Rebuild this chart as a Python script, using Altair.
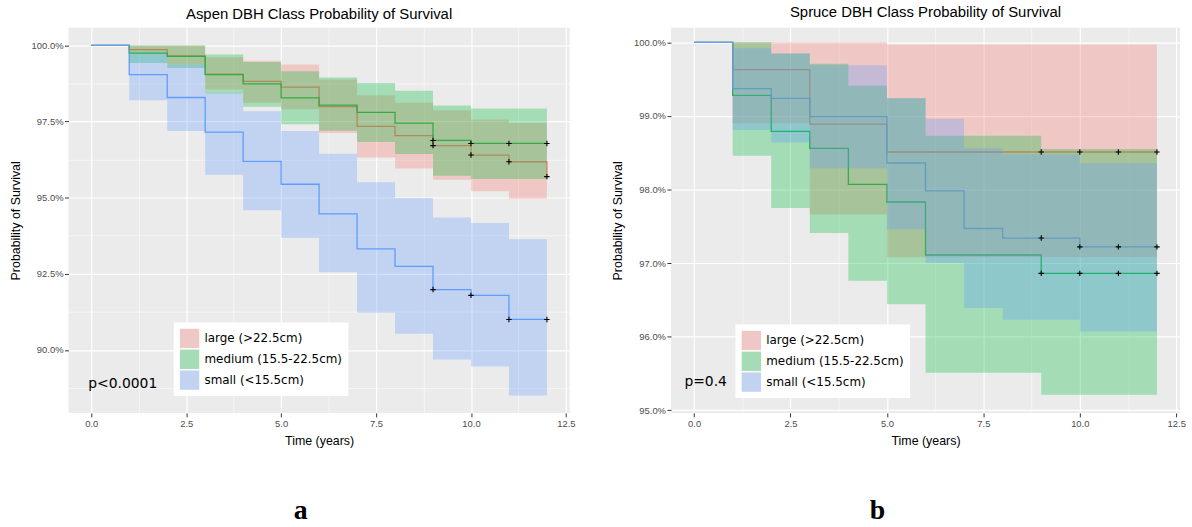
import altair as alt
import pandas as pd

# Kaplan-Meier survival by DBH class, yearly steps 0..12
YEARS = list(range(13))
GROUPS = ["large (>22.5cm)", "medium (15.5-22.5cm)", "small (<15.5cm)"]
LINE_COLORS = ["#F8766D", "#00BA38", "#619CFF"]
KEY_COLORS = ["#EFC8C5", "#A5DCB5", "#C2D3F1"]
PANEL_BG = "#EBEBEB"
BAND_ALPHA = 0.3
CENSOR_TIMES = [9, 10, 11, 12]

# Aspen: survival (%) and 95% confidence band per group
aspen_large_surv = [100, 99.86, 99.66, 99.06, 98.82, 98.63, 97.99, 97.34, 97.04, 96.71, 96.40, 96.18, 95.69]
aspen_large_lo = [100, 99.74, 99.37, 98.55, 98.12, 97.90, 97.12, 96.32, 95.96, 95.59, 95.21, 94.96, 94.96]
aspen_large_hi = [100, 100, 100, 99.61, 99.50, 99.37, 98.88, 98.36, 98.12, 97.87, 97.57, 97.45, 97.45]

aspen_medium_surv = [100, 99.75, 99.64, 99.04, 98.74, 98.28, 98.04, 97.80, 97.45, 96.88, 96.78, 96.78, 96.78]
aspen_medium_lo = [100, 99.42, 99.26, 98.42, 97.99, 97.41, 97.20, 96.83, 96.43, 95.72, 95.61, 95.61, 95.61]
aspen_medium_hi = [100, 100, 100, 99.70, 99.46, 99.15, 98.95, 98.77, 98.51, 98.03, 97.93, 97.93, 97.93]

aspen_small_surv = [100, 99.04, 98.29, 97.15, 96.19, 95.44, 94.47, 93.32, 92.74, 91.98, 91.79, 91.00, 91.00]
aspen_small_lo = [100, 98.20, 97.19, 95.75, 94.59, 93.68, 92.55, 91.22, 90.53, 89.68, 89.45, 88.50, 88.50]
aspen_small_hi = [100, 99.75, 99.37, 98.45, 97.84, 97.19, 96.44, 95.51, 94.99, 94.35, 94.17, 93.63, 93.63]

# Spruce: survival (%) and 95% confidence band per group
spruce_large_surv = [100, 99.63, 99.63, 98.89, 98.89, 98.51, 98.51, 98.51, 98.51, 98.51, 98.51, 98.51, 98.51]
spruce_large_lo = [100, 98.90, 98.90, 97.66, 97.66, 97.08, 97.08, 97.08, 97.08, 97.08, 97.08, 97.08, 97.08]
spruce_large_hi = [100, 100, 100, 100, 100, 99.97, 99.97, 99.97, 99.97, 99.97, 99.97, 99.97, 99.97]

spruce_medium_surv = [100, 99.28, 98.79, 98.56, 98.07, 97.83, 97.11, 97.11, 97.11, 96.86, 96.86, 96.86, 96.86]
spruce_medium_lo = [100, 98.46, 97.75, 97.41, 96.76, 96.44, 95.51, 95.51, 95.51, 95.21, 95.21, 95.21, 95.21]
spruce_medium_hi = [100, 100, 99.85, 99.71, 99.41, 99.24, 98.73, 98.73, 98.73, 98.55, 98.55, 98.55, 98.55]

spruce_small_surv = [100, 99.37, 99.24, 98.99, 98.99, 98.36, 97.98, 97.47, 97.34, 97.34, 97.22, 97.22, 97.22]
spruce_small_lo = [100, 98.81, 98.64, 98.29, 98.29, 97.46, 97.00, 96.39, 96.23, 96.23, 96.07, 96.07, 96.07]
spruce_small_hi = [100, 99.92, 99.85, 99.69, 99.69, 99.24, 98.96, 98.56, 98.48, 98.48, 98.36, 98.36, 98.36]

X_DOMAIN = [-0.6, 12.6]
X_GRID = [0, 1.25, 2.5, 3.75, 5, 6.25, 7.5, 8.75, 10, 11.25, 12.5]
ASPEN_Y_DOMAIN = [87.93, 100.58]
ASPEN_Y_GRID = [88.75, 90, 91.25, 92.5, 93.75, 95, 96.25, 97.5, 98.75, 100]
SPRUCE_Y_DOMAIN = [94.964, 100.198]
SPRUCE_Y_GRID = [95, 95.5, 96, 96.5, 97, 97.5, 98, 98.5, 99, 99.5, 100]

PLUS = "M-1,0L1,0M0,-1L0,1"
SANS = "Liberation Sans"


def long_table(series):
    rows = []
    for g, (s, lo, hi) in zip(GROUPS, series):
        for t, a, b, c in zip(YEARS, s, lo, hi):
            rows.append({"group": g, "time": t, "surv": a, "lo": b, "hi": c})
    return pd.DataFrame(rows)


def is_major(step):
    return f"abs(datum.value / {step} - round(datum.value / {step})) < 1e-6"


def make_axis(values, step, label_expr, title_padding):
    major = is_major(step)
    return alt.Axis(
        values=values,
        domain=False,
        grid=True,
        gridColor="white",
        gridWidth={"condition": {"test": major, "value": 1.2}, "value": 0.55},
        tickColor="#333333",
        tickSize=4,
        tickWidth=1,
        tickOpacity={"condition": {"test": major, "value": 1}, "value": 0},
        labelExpr=f"{major} ? {label_expr} : ''",
        labelOverlap=False,
        labelFlush=False,
        labelFont=SANS,
        labelFontSize=9.5,
        labelColor="#4D4D4D",
        labelPadding=1.5,
        titleFont=SANS,
        titleFontSize=12.5,
        titleFontWeight="normal",
        titleColor="black",
        titlePadding=title_padding,
    )


def panel(tbl, title, y_domain, y_grid, y_step, pval, pval_xy, letter, letter_x,
          legend_xy, width, height, title_offset):
    x_axis = make_axis(X_GRID, 2.5, "format(datum.value, '.1f')", 7)
    y_axis = make_axis(y_grid, y_step, "format(datum.value, '.1f') + '%'", 9)

    x_scale = alt.Scale(domain=X_DOMAIN, nice=False, zero=False)
    y_scale = alt.Scale(domain=y_domain, nice=False, zero=False)
    # line/band colours follow the data order of the groups
    color = alt.Color("group:N", scale=alt.Scale(range=LINE_COLORS), legend=None)

    base = alt.Chart(tbl)
    lines = base.mark_line(interpolate="step-after", strokeWidth=1.3).encode(
        x=alt.X("time:Q", scale=x_scale, axis=x_axis, title="Time (years)"),
        y=alt.Y("surv:Q", scale=y_scale, axis=y_axis, title="Probability of Survival"),
        color=color,
    )
    bands = base.mark_area(interpolate="step-after", opacity=BAND_ALPHA).encode(
        x="time:Q", y="lo:Q", y2="hi:Q", color=color
    )
    censored = (
        base.transform_filter(alt.FieldOneOfPredicate(field="time", oneOf=CENSOR_TIMES))
        .mark_point(shape=PLUS, size=30, filled=False, color="black", strokeWidth=1.1, opacity=1)
        .encode(x="time:Q", y="surv:Q")
    )
    ptext = alt.Chart(pd.DataFrame({"x": [pval_xy[0]], "y": [pval_xy[1]], "t": [pval]})).mark_text(
        align="left", baseline="middle", font="DejaVu Sans", fontSize=14, color="black"
    ).encode(x="x:Q", y="y:Q", text="t:N")
    tag = alt.Chart(pd.DataFrame({"t": [letter]})).mark_text(
        font="Liberation Serif", fontWeight="bold", fontSize=28, color="black",
        align="center", baseline="alphabetic"
    ).encode(x=alt.value(letter_x), y=alt.value(height + 107), text="t:N")
    # legend keys: band colour as seen over the panel background
    key = (
        alt.Chart(pd.DataFrame({"group": GROUPS}))
        .transform_filter("false")
        .mark_square(opacity=1)
        .encode(
            fill=alt.Fill(
                "group:N",
                scale=alt.Scale(domain=GROUPS, range=KEY_COLORS),
                legend=alt.Legend(
                    title=None, orient="none", legendX=legend_xy[0], legendY=legend_xy[1],
                    fillColor="white", padding=6, symbolType="square", symbolSize=380,
                    symbolStrokeWidth=0, symbolOpacity=1, labelFont="DejaVu Sans",
                    labelFontSize=12, labelColor="black", labelOffset=5, rowPadding=1,
                ),
            )
        )
    )
    return alt.layer(lines, bands, censored, ptext, tag, key).properties(
        width=width,
        height=height,
        view=alt.ViewBackground(fill=PANEL_BG, strokeWidth=0),
        title=alt.Title(title, font=SANS, fontSize=15, fontWeight="normal", color="black",
                        anchor="middle", offset=title_offset),
    )


aspen = long_table([
    (aspen_large_surv, aspen_large_lo, aspen_large_hi),
    (aspen_medium_surv, aspen_medium_lo, aspen_medium_hi),
    (aspen_small_surv, aspen_small_lo, aspen_small_hi),
])
spruce = long_table([
    (spruce_large_surv, spruce_large_lo, spruce_large_hi),
    (spruce_medium_surv, spruce_medium_lo, spruce_medium_hi),
    (spruce_small_surv, spruce_small_lo, spruce_small_hi),
])

left = panel(aspen, "Aspen DBH Class Probability of Survival", ASPEN_Y_DOMAIN, ASPEN_Y_GRID, 2.5,
             "p<0.0001", (-0.08, 88.89), "a", 234, (106, 297), 505, 388, 6)
right = panel(spruce, "Spruce DBH Class Probability of Survival", SPRUCE_Y_DOMAIN, SPRUCE_Y_GRID, 1,
              "p=0.4", (-0.25, 95.38), "b", 208, (65, 299), 513, 388, 8)

chart = (
    alt.hconcat(left, right, spacing=36)
    .resolve_scale(x="independent", y="independent", color="independent", fill="independent")
    .resolve_legend(fill="independent")
    .properties(padding={"left": 9, "top": 3, "right": 6, "bottom": 2}, background="white")
    .configure_view(fill=PANEL_BG, strokeWidth=0)
)

chart.save("out.html", embed_options={"renderer": "svg", "actions": False})
